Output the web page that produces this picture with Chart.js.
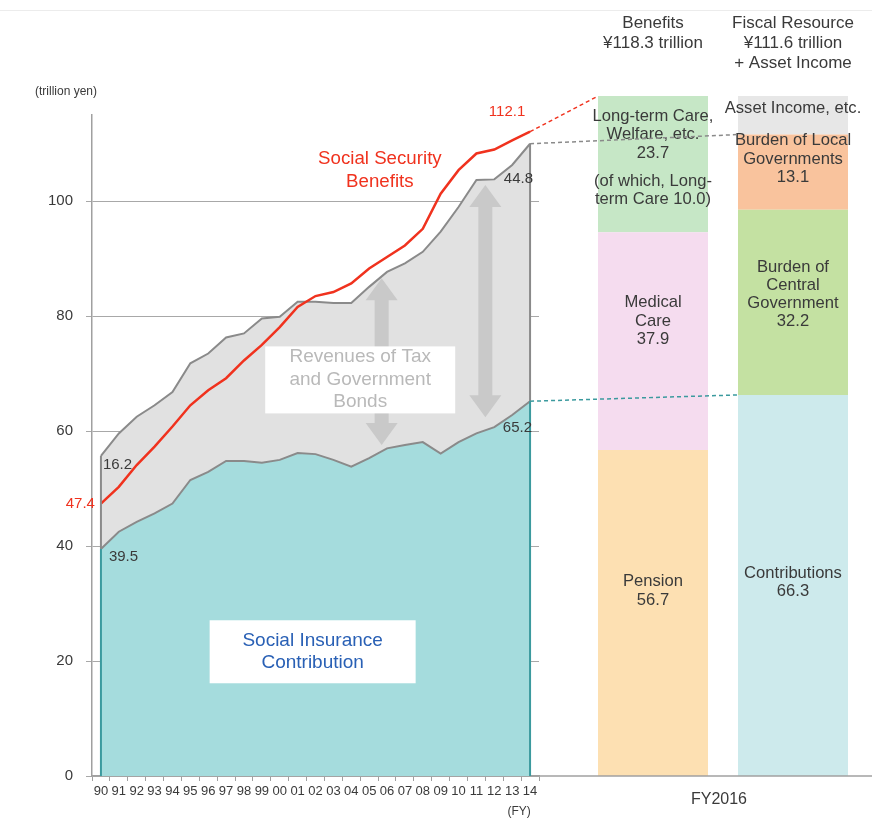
<!DOCTYPE html>
<html lang="en">
<head>
<meta charset="UTF-8">
<title>Social Security Benefits and Fiscal Resources</title>
<script src="https://cdn.jsdelivr.net/npm/chart.js"></script>
<style>
  body { margin: 0; background: #fff; }
  #wrap { position: relative; width: 872px; height: 819px; overflow: hidden; }
  #wrap canvas { position: absolute; top: 0; }
  #topline { position: absolute; left: 0; top: 10px; width: 872px; height: 1px; background: #ececec; }
</style>
</head>
<body>
<div id="wrap">
  <div id="topline"></div>
  <canvas id="trend" width="560" height="819" style="left:0"></canvas>
  <canvas id="fy2016" width="352" height="819" style="left:520px"></canvas>
</div>
<script>
// FY1990-FY2014, trillion yen
const years = ['90','91','92','93','94','95','96','97','98','99','00','01','02','03','04','05','06','07','08','09','10','11','12','13','14'];
const contributions = [39.5, 42.5, 44.2, 45.7, 47.4, 51.5, 52.9, 54.8, 54.8, 54.5, 55.0, 56.2, 56.0, 55.0, 53.8, 55.3, 57.0, 57.6, 58.1, 56.1, 58.1, 59.6, 60.7, 62.8, 65.2];
const taxAndBonds = [16.2, 17.1, 18.3, 18.8, 19.4, 20.3, 20.6, 21.5, 22.2, 25.1, 24.9, 26.3, 26.5, 27.3, 28.5, 29.8, 30.7, 31.6, 33.1, 38.6, 40.9, 44.1, 43.1, 43.5, 44.8];
const benefits = [47.4, 50.3, 54.1, 57.3, 60.8, 64.5, 67.1, 69.2, 72.3, 75.0, 78.1, 81.6, 83.5, 84.2, 85.7, 88.3, 90.3, 92.3, 95.2, 101.3, 105.4, 108.3, 109.0, 110.6, 112.1];
const yTicks = [0, 20, 40, 60, 80, 100];

// FY2016 breakdown
const benefitItems = ['Pension', 'Medical Care', 'Long-term Care, Welfare, etc.'];
const benefitValues = [56.7, 37.9, 23.7];
const resourceItems = ['Contributions', 'Burden of Central Government', 'Burden of Local Governments', 'Asset Income, etc.'];
const resourceValues = [66.3, 32.2, 13.1, 6.7];

const totals = contributions.map((c, i) => +(c + taxAndBonds[i]).toFixed(1));
const FONT = "'Liberation Sans', Arial, sans-serif";
const TEXT = '#3a3a3a';
const Y_MAX = 115;

function font(size) { return size + 'px ' + FONT; }

function vArrow(ctx, x, yTop, yBot) {
  const shaft = 7, head = 16, headLen = 22;
  ctx.beginPath();
  ctx.moveTo(x, yTop);
  ctx.lineTo(x + head, yTop + headLen);
  ctx.lineTo(x + shaft, yTop + headLen);
  ctx.lineTo(x + shaft, yBot - headLen);
  ctx.lineTo(x + head, yBot - headLen);
  ctx.lineTo(x, yBot);
  ctx.lineTo(x - head, yBot - headLen);
  ctx.lineTo(x - shaft, yBot - headLen);
  ctx.lineTo(x - shaft, yTop + headLen);
  ctx.lineTo(x - head, yTop + headLen);
  ctx.closePath();
  ctx.fill();
}

function lines(ctx, list, x, yCenter, lh) {
  const y0 = yCenter - (list.length - 1) * lh / 2;
  list.forEach((t, i) => ctx.fillText(t, x, y0 + i * lh));
}

const trendDecor = {
  id: 'trendDecor',
  afterDatasetsDraw(chart) {
    const { ctx, scales: { x, y } } = chart;
    const last = years.length - 1;
    ctx.save();

    // closing edges of the areas
    ctx.lineWidth = 2;
    [0, last].forEach(i => {
      const px = x.getPixelForValue(i);
      ctx.strokeStyle = '#8a8a8a';
      ctx.beginPath(); ctx.moveTo(px, y.getPixelForValue(totals[i])); ctx.lineTo(px, y.getPixelForValue(contributions[i])); ctx.stroke();
      ctx.strokeStyle = '#3b9a9e';
      ctx.beginPath(); ctx.moveTo(px, y.getPixelForValue(contributions[i])); ctx.lineTo(px, y.getPixelForValue(0)); ctx.stroke();
    });

    // arrows across the tax and bond band
    ctx.fillStyle = '#c9c9c9';
    vArrow(ctx, x.getPixelForValue(15.7), y.getPixelForValue(86.6), y.getPixelForValue(57.6));
    vArrow(ctx, x.getPixelForValue(21.5), y.getPixelForValue(102.8), y.getPixelForValue(62.4));

    // boxed captions
    ctx.textAlign = 'center';
    ctx.textBaseline = 'middle';
    let cx = x.getPixelForValue(14.5), cy = y.getPixelForValue(69);
    ctx.fillStyle = '#fff';
    ctx.fillRect(cx - 95, cy - 33, 190, 67);
    ctx.fillStyle = '#b9b9b9';
    ctx.font = font(19);
    lines(ctx, ['Revenues of Tax', 'and Government', 'Bonds'], cx, cy, 22.5);

    cx = x.getPixelForValue(11.84); cy = y.getPixelForValue(21.7);
    ctx.fillStyle = '#fff';
    ctx.fillRect(cx - 103, cy - 31, 206, 63);
    ctx.fillStyle = '#2960b5';
    lines(ctx, ['Social Insurance', 'Contribution'], cx, cy, 22);

    ctx.fillStyle = '#f0321e';
    ctx.font = font(18.7);
    lines(ctx, ['Social Security', 'Benefits'], x.getPixelForValue(15.6), y.getPixelForValue(105.3), 23);

    // value labels
    const x0 = x.getPixelForValue(0), xl = x.getPixelForValue(last);
    ctx.font = font(15);
    ctx.fillText(benefits[last].toFixed(1), xl - 23, y.getPixelForValue(benefits[last]) - 20);
    ctx.textAlign = 'right';
    ctx.fillText(benefits[0].toFixed(1), x0 - 6, y.getPixelForValue(benefits[0]));
    ctx.fillStyle = TEXT;
    ctx.fillText(taxAndBonds[last].toFixed(1), xl + 3, y.getPixelForValue(totals[last]) + 35);
    ctx.fillText(contributions[last].toFixed(1), xl + 2, y.getPixelForValue(contributions[last]) + 27);
    ctx.textAlign = 'left';
    ctx.fillText(taxAndBonds[0].toFixed(1), x0 + 2, y.getPixelForValue(totals[0]) + 9);
    ctx.fillText(contributions[0].toFixed(1), x0 + 8, y.getPixelForValue(contributions[0]) + 8);

    // unit captions
    ctx.font = font(12);
    ctx.fillText('(trillion yen)', 35, 92);
    ctx.textAlign = 'center';
    ctx.fillText('(FY)', xl - 11, chart.chartArea.bottom + 36);
    ctx.restore();
  }
};

const trend = new Chart(document.getElementById('trend'), {
  type: 'line',
  data: {
    labels: years,
    datasets: [
      { label: 'Social Insurance Contribution', data: contributions, fill: 'origin',
        backgroundColor: '#a5dcdd', borderColor: '#8a8a8a', borderWidth: 2, order: 1 },
      { label: 'Revenues of Tax and Government Bonds', data: totals, fill: '-1',
        backgroundColor: '#e1e1e1', borderColor: '#8a8a8a', borderWidth: 2, order: 2 },
      { label: 'Social Security Benefits', data: benefits, fill: false,
        borderColor: '#f0321e', borderWidth: 2.5, order: 0 }
    ]
  },
  options: {
    responsive: false,
    animation: false,
    layout: { padding: { top: 115, right: 21, left: 0, bottom: 0 } },
    elements: { point: { radius: 0 }, line: { tension: 0 } },
    plugins: { legend: { display: false }, tooltip: { enabled: false } },
    scales: {
      x: {
        offset: true,
        grid: { offset: true, drawOnChartArea: false, tickLength: 5, color: '#a0a0a0' },
        border: { color: '#a0a0a0', width: 1.5 },
        ticks: { autoSkip: false, maxRotation: 0, padding: 3, color: TEXT, font: { size: 13, family: FONT } },
        afterFit: s => { s.height = 43; }
      },
      y: {
        min: 0, max: Y_MAX,
        afterBuildTicks: s => { s.ticks = yTicks.map(v => ({ value: v })); },
        grid: { color: '#a8a8a8', tickLength: 6 },
        border: { color: '#a0a0a0', width: 1.5 },
        ticks: { padding: 13, color: TEXT, font: { size: 15, family: FONT } },
        afterFit: s => { s.width = 92; }
      }
    }
  },
  plugins: [trendDecor]
});

// text inside the FY2016 bars: lines, vertical nudge, extra gap before a line
const benefitText = [
  { lines: ['Pension', '56.7'], dy: -22 },
  { lines: ['Medical', 'Care', '37.9'], dy: -20 },
  { lines: ['Long-term Care,', 'Welfare, etc.', '23.7', '(of which, Long-', 'term Care 10.0)'], dy: -6, gapAt: 3, gap: 10 }
];
const resourceText = [
  { lines: ['Contributions', '66.3'], dy: -3 },
  { lines: ['Burden of', 'Central', 'Government', '32.2'], dy: -8 },
  { lines: ['Burden of Local', 'Governments', '13.1'], dy: -13 },
  { lines: ['Asset Income, etc.'], dy: -7 }
];

function barText(ctx, bar, spec) {
  const lh = 18.3;
  const gap = spec.gap || 0;
  const h = (spec.lines.length - 1) * lh + gap;
  let yy = (bar.y + bar.base) / 2 + spec.dy - h / 2;
  spec.lines.forEach((t, i) => {
    if (i === spec.gapAt) yy += gap;
    ctx.fillText(t, bar.x, yy);
    yy += lh;
  });
}

function dashed(ctx, x1, y1, x2, y2, color) {
  ctx.strokeStyle = color;
  ctx.lineWidth = 1.5;
  ctx.setLineDash([4, 3]);
  ctx.beginPath(); ctx.moveTo(x1, y1); ctx.lineTo(x2, y2); ctx.stroke();
  ctx.setLineDash([]);
}

const fyDecor = {
  id: 'fyDecor',
  afterDatasetsDraw(chart) {
    const { ctx, chartArea, scales: { y } } = chart;
    const offset = 520;
    const nb = benefitItems.length;
    ctx.save();

    // baseline continues the axis of the trend chart
    ctx.strokeStyle = '#a0a0a0';
    ctx.lineWidth = 1.5;
    ctx.beginPath();
    ctx.moveTo(trend.chartArea.right - offset, chartArea.bottom);
    ctx.lineTo(chart.width, chartArea.bottom);
    ctx.stroke();

    ctx.textAlign = 'center';
    ctx.textBaseline = 'middle';
    ctx.fillStyle = TEXT;
    ctx.font = font(16.6);
    benefitText.forEach((s, i) => barText(ctx, chart.getDatasetMeta(i).data[0], s));
    resourceText.forEach((s, i) => barText(ctx, chart.getDatasetMeta(nb + i).data[1], s));

    // headers
    const bx = chart.getDatasetMeta(0).data[0].x;
    const rx = chart.getDatasetMeta(nb).data[1].x;
    const benTotal = benefitValues.reduce((a, b) => a + b, 0);
    const resTotal = resourceValues.slice(0, 3).reduce((a, b) => a + b, 0);
    ctx.font = font(17);
    lines(ctx, ['Benefits', '¥' + benTotal.toFixed(1) + ' trillion'], bx, 33, 20);
    lines(ctx, ['Fiscal Resource', '¥' + resTotal.toFixed(1) + ' trillion', '+ Asset Income'], rx, 43, 20);
    ctx.font = font(16);
    ctx.fillText('FY2016', (bx + rx) / 2 - 4, chartArea.bottom + 24);

    // dashed links from the FY2014 end points
    const last = years.length - 1;
    const sx = trend.scales.x.getPixelForValue(last) - offset;
    const ben = chart.getDatasetMeta(nb - 1).data[0];
    const local = chart.getDatasetMeta(nb + 2).data[1];
    const contrib = chart.getDatasetMeta(nb).data[1];
    dashed(ctx, sx, y.getPixelForValue(benefits[last]), ben.x - ben.width / 2, ben.y, '#f0321e');
    dashed(ctx, sx, y.getPixelForValue(totals[last]), local.x - local.width / 2, local.y, '#8a8a8a');
    dashed(ctx, sx, y.getPixelForValue(contributions[last]), contrib.x - contrib.width / 2, contrib.y, '#3b9a9e');
    ctx.restore();
  }
};

const benefitColors = ['#fde0b2', '#f5dcef', '#c6e7c6'];
const resourceColors = ['#cdeaec', '#c4e1a2', '#f9c39d', '#e7e7e7'];

new Chart(document.getElementById('fy2016'), {
  type: 'bar',
  data: {
    labels: ['Benefits', 'Fiscal Resource'],
    datasets: [
      ...benefitItems.map((name, i) => ({ label: name, data: [benefitValues[i], null], backgroundColor: benefitColors[i], clip: false })),
      ...resourceItems.map((name, i) => ({ label: name, data: [null, resourceValues[i]], backgroundColor: resourceColors[i], clip: false }))
    ]
  },
  options: {
    responsive: false,
    animation: false,
    layout: { padding: { top: 115, left: 63, right: 9, bottom: 0 } },
    categoryPercentage: 1,
    barPercentage: 110 / 140,
    plugins: { legend: { display: false }, tooltip: { enabled: false } },
    scales: {
      x: {
        stacked: true,
        grid: { display: false },
        border: { display: false },
        ticks: { display: false },
        afterFit: s => { s.height = 43; }
      },
      y: { stacked: true, display: false, min: 0, max: Y_MAX }
    }
  },
  plugins: [fyDecor]
});
</script>
</body>
</html>
